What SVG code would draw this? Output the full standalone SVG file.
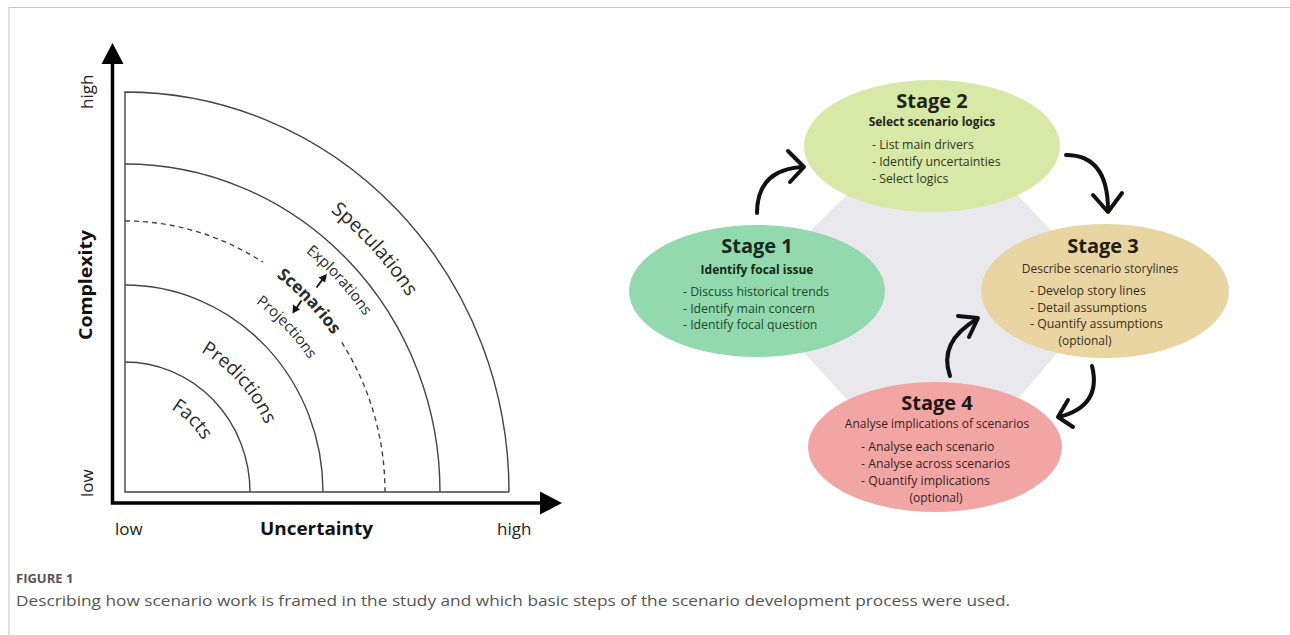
<svg xmlns="http://www.w3.org/2000/svg" width="1290" height="635" viewBox="0 0 1290 635">
<style>
.arc{fill:none;stroke:#444;stroke-width:1.4}
.dash{fill:none;stroke:#444;stroke-width:1.4;stroke-dasharray:5 4}
.axis{fill:none;stroke:#000;stroke-width:3.5}
.lbl{font-family:"Open Sans","DejaVu Sans",sans-serif;fill:#2a2a2a}
.ax{font-family:"Open Sans","DejaVu Sans",sans-serif;fill:#222;font-size:17px}
.axb{font-family:"Open Sans","DejaVu Sans",sans-serif;fill:#111;font-size:17px;font-weight:bold}
.st{font-family:"Open Sans","DejaVu Sans",sans-serif;font-size:20px;font-weight:bold;text-anchor:middle}
.sub{font-family:"Open Sans","DejaVu Sans",sans-serif;font-size:12px;text-anchor:middle}
.b{font-family:"Open Sans","DejaVu Sans",sans-serif;font-size:12.3px}
.conn{fill:none;stroke:#111;stroke-width:4;stroke-linecap:round;stroke-linejoin:round}
.cap{font-family:"Open Sans","Liberation Sans",sans-serif;fill:#555}
</style>
<defs>
<path id="pSpec" d="M125,139 A338.9,353 0 0 1 463.9,492"/>
<path id="pExpl" d="M125,187 A292.8,305 0 0 1 417.8,492"/>
<path id="pScen" d="M125,225 A256.3,267 0 0 1 381.3,492"/>
<path id="pProj" d="M125,259 A223.7,233 0 0 1 348.7,492"/>
<path id="pPred" d="M125,331 A154.5,161 0 0 1 279.5,492"/>
<path id="pFact" d="M125,396 A92,96 0 0 1 217,492"/>
</defs>
<rect width="1290" height="635" fill="#fff"/>
<path d="M9,635 L9,7.5 L1290,7.5" fill="none" stroke="#c8c8c8" stroke-width="1.2"/>

<g id="chart">
<path class="axis" d="M112.5,62 L112.5,503 L542,503"/>
<polygon points="112.5,43 101.5,64 123.5,64" fill="#000"/>
<polygon points="562,503 540,491.5 540,514.5" fill="#000"/>
<path class="arc" d="M509,492 L125,492 L125,92 A384,400 0 0 1 509,492"/>
<path class="arc" d="M125,164 A315,328 0 0 1 440,492"/>
<path class="arc" d="M125,285 A198,207 0 0 1 323,492"/>
<path class="arc" d="M125,362 A125,130 0 0 1 250,492"/>
<path class="dash" d="M125,221 A260,271 0 0 1 262.8,262.2"/>
<path class="dash" d="M341.8,342.4 A260,271 0 0 1 385,492"/>
<text class="ax" transform="translate(93,109) rotate(-90)">high</text>
<text class="ax" transform="translate(93,497) rotate(-90)">low</text>
<text class="axb" transform="translate(92,340) rotate(-90)" textLength="110" lengthAdjust="spacingAndGlyphs">Complexity</text>
<text class="ax" x="115" y="535">low</text>
<text class="axb" x="260" y="535" textLength="113" lengthAdjust="spacingAndGlyphs">Uncertainty</text>
<text class="ax" x="497" y="535">high</text>
<text class="lbl" font-size="19.5" text-anchor="middle"><textPath href="#pSpec" startOffset="51.5%">Speculations</textPath></text>
<text class="lbl" font-size="15" text-anchor="middle"><textPath href="#pExpl" startOffset="51%">Explorations</textPath></text>
<text class="lbl" font-size="17" font-weight="bold" fill="#111" text-anchor="middle"><textPath href="#pScen" startOffset="49.5%">Scenarios</textPath></text>
<text class="lbl" font-size="15" text-anchor="middle"><textPath href="#pProj" startOffset="50%">Projections</textPath></text>
<text class="lbl" font-size="19" text-anchor="middle"><textPath href="#pPred" startOffset="52%">Predictions</textPath></text>
<text class="lbl" font-size="19" text-anchor="middle"><textPath href="#pFact" startOffset="48%">Facts</textPath></text>
<path d="M316.5,287.5 L322.5,279.5" stroke="#111" stroke-width="1.8" fill="none"/>
<polygon points="327,274 318.5,277.5 325,282.5" fill="#111"/>
<path d="M301.5,300.5 L296.5,308" stroke="#111" stroke-width="1.8" fill="none"/>
<polygon points="292.5,313.5 293,304.5 300,309.5" fill="#111"/>
</g>

<polygon id="backdrop" points="748,292 935,108 1110,292 935,495" fill="#e9e8ec"/>

<g id="connectors">
<path class="conn" d="M757,213 Q757,170 802,167"/>
<path class="conn" d="M788,151 L804,167 L790,182"/>
<path class="conn" d="M1066,155 Q1108,155 1108,210"/>
<path class="conn" d="M1093,195 L1108,212 L1122,193"/>
<path class="conn" d="M950,376 Q938,342 977,319"/>
<path class="conn" d="M958,316 L978,318 L969,337"/>
<path class="conn" d="M1092,366 Q1102,406 1059,417"/>
<path class="conn" d="M1068,400 L1058,417 L1073,427"/>
</g>

<g id="stage2">
<ellipse cx="932" cy="146" rx="128" ry="66" fill="#d8e8a7"/>
<text class="st" x="932" y="108" fill="#1f2516">Stage 2</text>
<text class="sub" x="932" y="126" font-weight="bold" fill="#1f2516">Select scenario logics</text>
<text class="b" fill="#2e3a20"><tspan x="872" y="149">- List main drivers</tspan><tspan x="872" y="166">- Identify uncertainties</tspan><tspan x="872" y="183">- Select logics</tspan></text>
</g>

<g id="stage1">
<ellipse cx="757" cy="291" rx="128" ry="66" fill="#92d9ae"/>
<text class="st" x="757" y="253" fill="#152a1c">Stage 1</text>
<text class="sub" x="757" y="274" font-weight="bold" fill="#152a1c">Identify focal issue</text>
<text class="b" fill="#1d4a2b"><tspan x="683" y="296">- Discuss historical trends</tspan><tspan x="683" y="313">- Identify main concern</tspan><tspan x="683" y="329">- Identify focal question</tspan></text>
</g>

<g id="stage3">
<ellipse cx="1105" cy="291" rx="124" ry="67" fill="#e8d5a2"/>
<text class="st" x="1103" y="253" fill="#221c12">Stage 3</text>
<text class="sub" x="1100" y="273" fill="#3a301c">Describe scenario storylines</text>
<text class="b" fill="#3a301c"><tspan x="1030" y="295">- Develop story lines</tspan><tspan x="1030" y="312">- Detail assumptions</tspan><tspan x="1030" y="328">- Quantify assumptions</tspan></text>
<text class="sub" x="1085" y="345" fill="#3a301c">(optional)</text>
</g>

<g id="stage4">
<ellipse cx="935" cy="447" rx="127" ry="65" fill="#f2a6a4"/>
<text class="st" x="937" y="410" fill="#221414">Stage 4</text>
<text class="sub" x="937" y="428" fill="#3a1f1f">Analyse implications of scenarios</text>
<text class="b" fill="#3a1f1f"><tspan x="861" y="451">- Analyse each scenario</tspan><tspan x="861" y="468">- Analyse across scenarios</tspan><tspan x="861" y="485">- Quantify implications</tspan></text>
<text class="sub" x="936" y="502" fill="#3a1f1f">(optional)</text>
</g>

<g id="caption">
<text class="cap" x="16" y="583" font-size="13" font-weight="bold" fill="#555">FIGURE 1</text>
<text class="cap" x="16" y="606" font-size="15" textLength="994" lengthAdjust="spacingAndGlyphs">Describing how scenario work is framed in the study and which basic steps of the scenario development process were used.</text>
</g>
</svg>
